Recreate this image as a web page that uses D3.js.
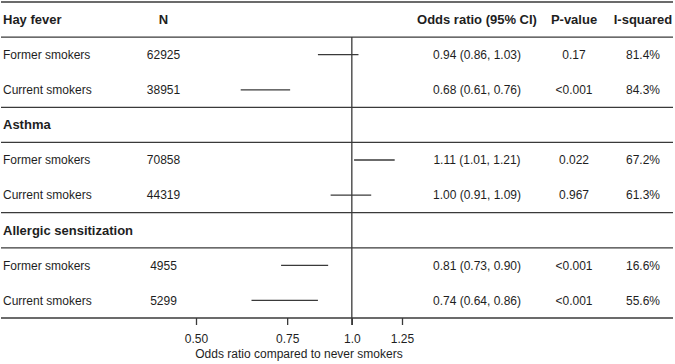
<!DOCTYPE html>
<html>
<head>
<meta charset="utf-8">
<script src="https://cdn.jsdelivr.net/npm/d3@7"></script>
<style>
  body { margin: 0; background: #fff; }
  svg text { font-family: "Liberation Sans", Arial, sans-serif; fill: #1e1e1e; }
</style>
</head>
<body>
<div id="chart"></div>
<script>
// outcome groups and rows
const groups = ['Hay fever', 'Asthma', 'Allergic sensitization'];
const rowLabels = ['Former smokers', 'Current smokers', 'Former smokers', 'Current smokers', 'Former smokers', 'Current smokers'];
const nValues = [62925, 38951, 70858, 44319, 4955, 5299];
const oddsRatio = [0.94, 0.68, 1.11, 1.00, 0.81, 0.74];
const lower = [0.86, 0.61, 1.01, 0.91, 0.73, 0.64];
const upper = [1.03, 0.76, 1.21, 1.09, 0.90, 0.86];
const pValues = ['0.17', '<0.001', '0.022', '0.967', '<0.001', '<0.001'];
const iSquared = ['81.4%', '84.3%', '67.2%', '61.3%', '16.6%', '55.6%'];
const headers = ['N', 'Odds ratio (95% CI)', 'P-value', 'I-squared'];
const tickValues = [0.5, 0.75, 1.0, 1.25];
const tickLabels = ['0.50', '0.75', '1.0', '1.25'];
const axisTitle = 'Odds ratio compared to never smokers';

const w = 675;
const h = 364;
const lineColor = '#3a3a3a';
const col = { label: 3, n: 163.5, or: 477, p: 574, i2: 643 };

const svg = d3.select('#chart')
    .append('svg')
    .attr('width', w)
    .attr('height', h);

// 9 table rows: group header + 2 data rows, three times
const rowScale = d3.scaleBand()
    .domain(d3.range(9))
    .range([2, 318]);
const rowY = (i) => rowScale(i) + rowScale.bandwidth() / 2;
const dataRow = (i) => Math.floor(i / 2) * 3 + 1 + (i % 2);

const xScale = d3.scaleLog()
    .domain([0.5, 1.25])
    .range([196, 402]);

// horizontal table rules
const ruleRows = [0, 1, 3, 4, 6, 7, 9];
const ruleY = (d) => d === 9 ? rowScale(8) + rowScale.step() : rowScale(d);
svg.selectAll('line.rule')
    .data(ruleRows)
    .enter()
    .append('line')
    .attr('class', 'rule')
    .attr('x1', 1)
    .attr('x2', 673)
    .attr('y1', ruleY)
    .attr('y2', ruleY)
    .attr('stroke', lineColor)
    .attr('stroke-width', 1.3);

// axis
const axisY = rowScale(8) + rowScale.step();
const xAxis = d3.axisBottom(xScale)
    .tickValues(tickValues)
    .tickFormat((d, i) => tickLabels[i])
    .tickSize(7)
    .tickPadding(9);

const ax = svg.append('g')
    .attr('transform', 'translate(0,' + axisY + ')')
    .call(xAxis);
ax.select('.domain').remove();
ax.selectAll('line').attr('stroke', lineColor).attr('stroke-width', 1.3);
ax.selectAll('text')
    .style('font-family', '"Liberation Sans", Arial, sans-serif')
    .style('font-size', '12px')
    .attr('fill', '#1e1e1e');

svg.append('text')
    .attr('x', (xScale(0.5) + xScale(1.25)) / 2)
    .attr('y', 358)
    .attr('text-anchor', 'middle')
    .style('font-size', '12px')
    .text(axisTitle);

// reference line at OR = 1
svg.append('line')
    .attr('x1', xScale(1))
    .attr('x2', xScale(1))
    .attr('y1', rowScale(1))
    .attr('y2', axisY + 7)
    .attr('stroke', lineColor)
    .attr('stroke-width', 1.3);

// group headers
svg.selectAll('text.group')
    .data(groups)
    .enter()
    .append('text')
    .attr('class', 'group')
    .attr('x', col.label)
    .attr('y', (d, i) => rowY(i * 3))
    .attr('dy', '0.35em')
    .style('font-size', '13px')
    .style('font-weight', 'bold')
    .text((d) => d);

// column headers
const headerX = [col.n, col.or, col.p, col.i2];
svg.selectAll('text.head')
    .data(headers)
    .enter()
    .append('text')
    .attr('class', 'head')
    .attr('x', (d, i) => headerX[i])
    .attr('y', rowY(0))
    .attr('dy', '0.35em')
    .attr('text-anchor', 'middle')
    .style('font-size', '13px')
    .style('font-weight', 'bold')
    .text((d) => d);

// data rows
const rows = svg.selectAll('g.row')
    .data(d3.range(rowLabels.length))
    .enter()
    .append('g')
    .attr('class', 'row')
    .attr('transform', (i) => 'translate(0,' + rowY(dataRow(i)) + ')');

rows.append('line')
    .attr('x1', (i) => xScale(lower[i]))
    .attr('x2', (i) => xScale(upper[i]))
    .attr('y1', 0)
    .attr('y2', 0)
    .attr('stroke', lineColor)
    .attr('stroke-width', 1.3);

const cell = (x, anchor, fn) => rows.append('text')
    .attr('x', x)
    .attr('dy', '0.35em')
    .attr('text-anchor', anchor)
    .style('font-size', '12px')
    .text(fn);

cell(col.label, 'start', (i) => rowLabels[i]);
cell(col.n, 'middle', (i) => nValues[i]);
cell(col.or, 'middle', (i) => oddsRatio[i].toFixed(2) + ' (' + lower[i].toFixed(2) + ', ' + upper[i].toFixed(2) + ')');
cell(col.p, 'middle', (i) => pValues[i]);
cell(col.i2, 'middle', (i) => iSquared[i]);
</script>
</body>
</html>
